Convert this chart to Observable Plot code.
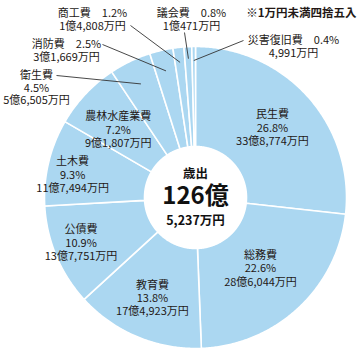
<!DOCTYPE html>
<html><head><meta charset="utf-8">
<script src="https://cdn.jsdelivr.net/npm/d3@7"></script>
<script src="https://cdn.jsdelivr.net/npm/@observablehq/plot@0.6"></script>
<style>html,body{margin:0;padding:0;background:#fff} svg{display:block}</style>
</head><body><div id="chart"></div>
<script>
// ---- data ----
const categories = ["民生費","総務費","教育費","公債費","土木費","農林水産業費","衛生費","消防費","商工費","議会費","災害復旧費"];
const amounts = [338774,286044,174923,137751,117494,91807,56505,31669,14808,10471,4991]; // 万円
const percents = ["26.8%","22.6%","13.8%","10.9%","9.3%","7.2%","4.5%","2.5%","1.2%","0.8%","0.4%"];
const amountLabels = ["33億8,774万円","28億6,044万円","17億4,923万円","13億7,751万円","11億7,494万円","9億1,807万円","5億6,505万円","3億1,669万円","1億4,808万円","1億471万円","4,991万円"];
const centerLines = ["歳出","126億","5,237万円"];
const note = "※1万円未満四捨五入";

// ---- layout ----
const W = 362, H = 354, cx = 195, cy = 197, R = 151, R0 = 51;
const FILL = "#abd7f1", INK = "#231815";
// inside labels: [radius, angle offset (deg)]
const insideLayout = {"民生費":[104,-0.5],"総務費":[96,0.3],"教育費":[109,0.6],"公債費":[123,1.4],"土木費":[125,-2.9],"農林水産業費":[103,-1.8]};
// callouts: text anchor (px), leader start (px), leader end radius, separator between name & percent
const callouts = {
  "衛生費":   {tx:36,  ty:87, lx:56,  ly:75, r:126, sep:"\n"},
  "消防費":   {tx:66,  ty:50, lx:102, ly:44, r:130, sep:"　"},
  "商工費":   {tx:92,  ty:19, lx:130, ly:25, r:136, sep:"　"},
  "議会費":   {tx:191, ty:19, lx:184, ly:32, r:139, sep:"　"},
  "災害復旧費":{tx:293, ty:46, lx:243, ly:40, r:137, sep:"　"}
};

// ---- geometry from data ----
const total = d3.sum(amounts);
let acc = 0;
const slices = categories.map((name, i) => {
  const a0 = acc / total * 2 * Math.PI;
  acc += amounts[i];
  const a1 = acc / total * 2 * Math.PI;
  return {name, i, a0, a1, mid: (a0 + a1) / 2};
});
const pt = (r, a) => [r * Math.sin(a), -r * Math.cos(a)];
const wedgePts = [];
for (const s of slices) {
  const n = Math.max(2, Math.ceil((s.a1 - s.a0) / (Math.PI / 360)));
  for (let k = 0; k <= n; k++) { const a = s.a0 + (s.a1 - s.a0) * k / n; const [x, y] = pt(R, a); wedgePts.push({name: s.name, x, y}); }
  for (let k = n; k >= 0; k--) { const a = s.a0 + (s.a1 - s.a0) * k / n; const [x, y] = pt(R0, a); wedgePts.push({name: s.name, x, y}); }
}
const insideText = slices.filter(s => insideLayout[s.name]).map(s => {
  const [r, da] = insideLayout[s.name];
  const [x, y] = pt(r, s.mid + da * Math.PI / 180);
  return {x, y, text: `${s.name}\n${percents[s.i]}\n${amountLabels[s.i]}`};
});
const outsideText = slices.filter(s => callouts[s.name]).map(s => {
  const c = callouts[s.name];
  const [x2, y2] = pt(c.r, s.mid);
  return {x: c.tx - cx, y: c.ty - cy, x1: c.lx - cx, y1: c.ly - cy, x2, y2,
          text: `${s.name}${c.sep}${percents[s.i]}\n${amountLabels[s.i]}`};
});

const chart = Plot.plot({
  width: W, height: H, margin: 0,
  x: {domain: [-cx, W - cx], range: [0, W], axis: null},
  y: {domain: [-cy, H - cy], range: [0, H], axis: null},
  style: {fontFamily: "'Noto Sans CJK JP', 'Noto Sans', sans-serif", fontSize: "11px", color: INK, background: "#fff"},
  marks: [
    Plot.line(wedgePts, {x: "x", y: "y", z: "name", fill: FILL, stroke: "white", strokeWidth: 1.6, curve: "linear-closed"}),
    Plot.link(outsideText, {x1: "x1", y1: "y1", x2: "x2", y2: "y2", stroke: "#333", strokeWidth: 0.9}),
    Plot.text(insideText, {x: "x", y: "y", text: "text", fill: INK, fontSize: 11, lineHeight: 1.22, lineAnchor: "middle"}),
    Plot.text(outsideText, {x: "x", y: "y", text: "text", fill: INK, fontSize: 11, lineHeight: 1.15, lineAnchor: "middle"}),
    Plot.text([centerLines[0]], {x: () => 0, y: () => 0, text: d => d, dy: -24, fontSize: 12.5, fontWeight: "bold", fill: "#111"}),
    Plot.text([centerLines[1]], {x: () => 0, y: () => 0, text: d => d, dy: -1, fontSize: 24, fontWeight: "bold", fill: "#111"}),
    Plot.text([centerLines[2]], {x: () => 0, y: () => 0, text: d => d, dy: 23, fontSize: 12.5, fontWeight: "bold", fill: "#111"}),
    Plot.text([note], {x: () => W - cx - 6, y: () => 13 - cy, text: d => d, textAnchor: "end", fontSize: 11.5, fontWeight: "bold", fill: INK})
  ]
});
document.getElementById("chart").appendChild(chart);
</script>
</body></html>
